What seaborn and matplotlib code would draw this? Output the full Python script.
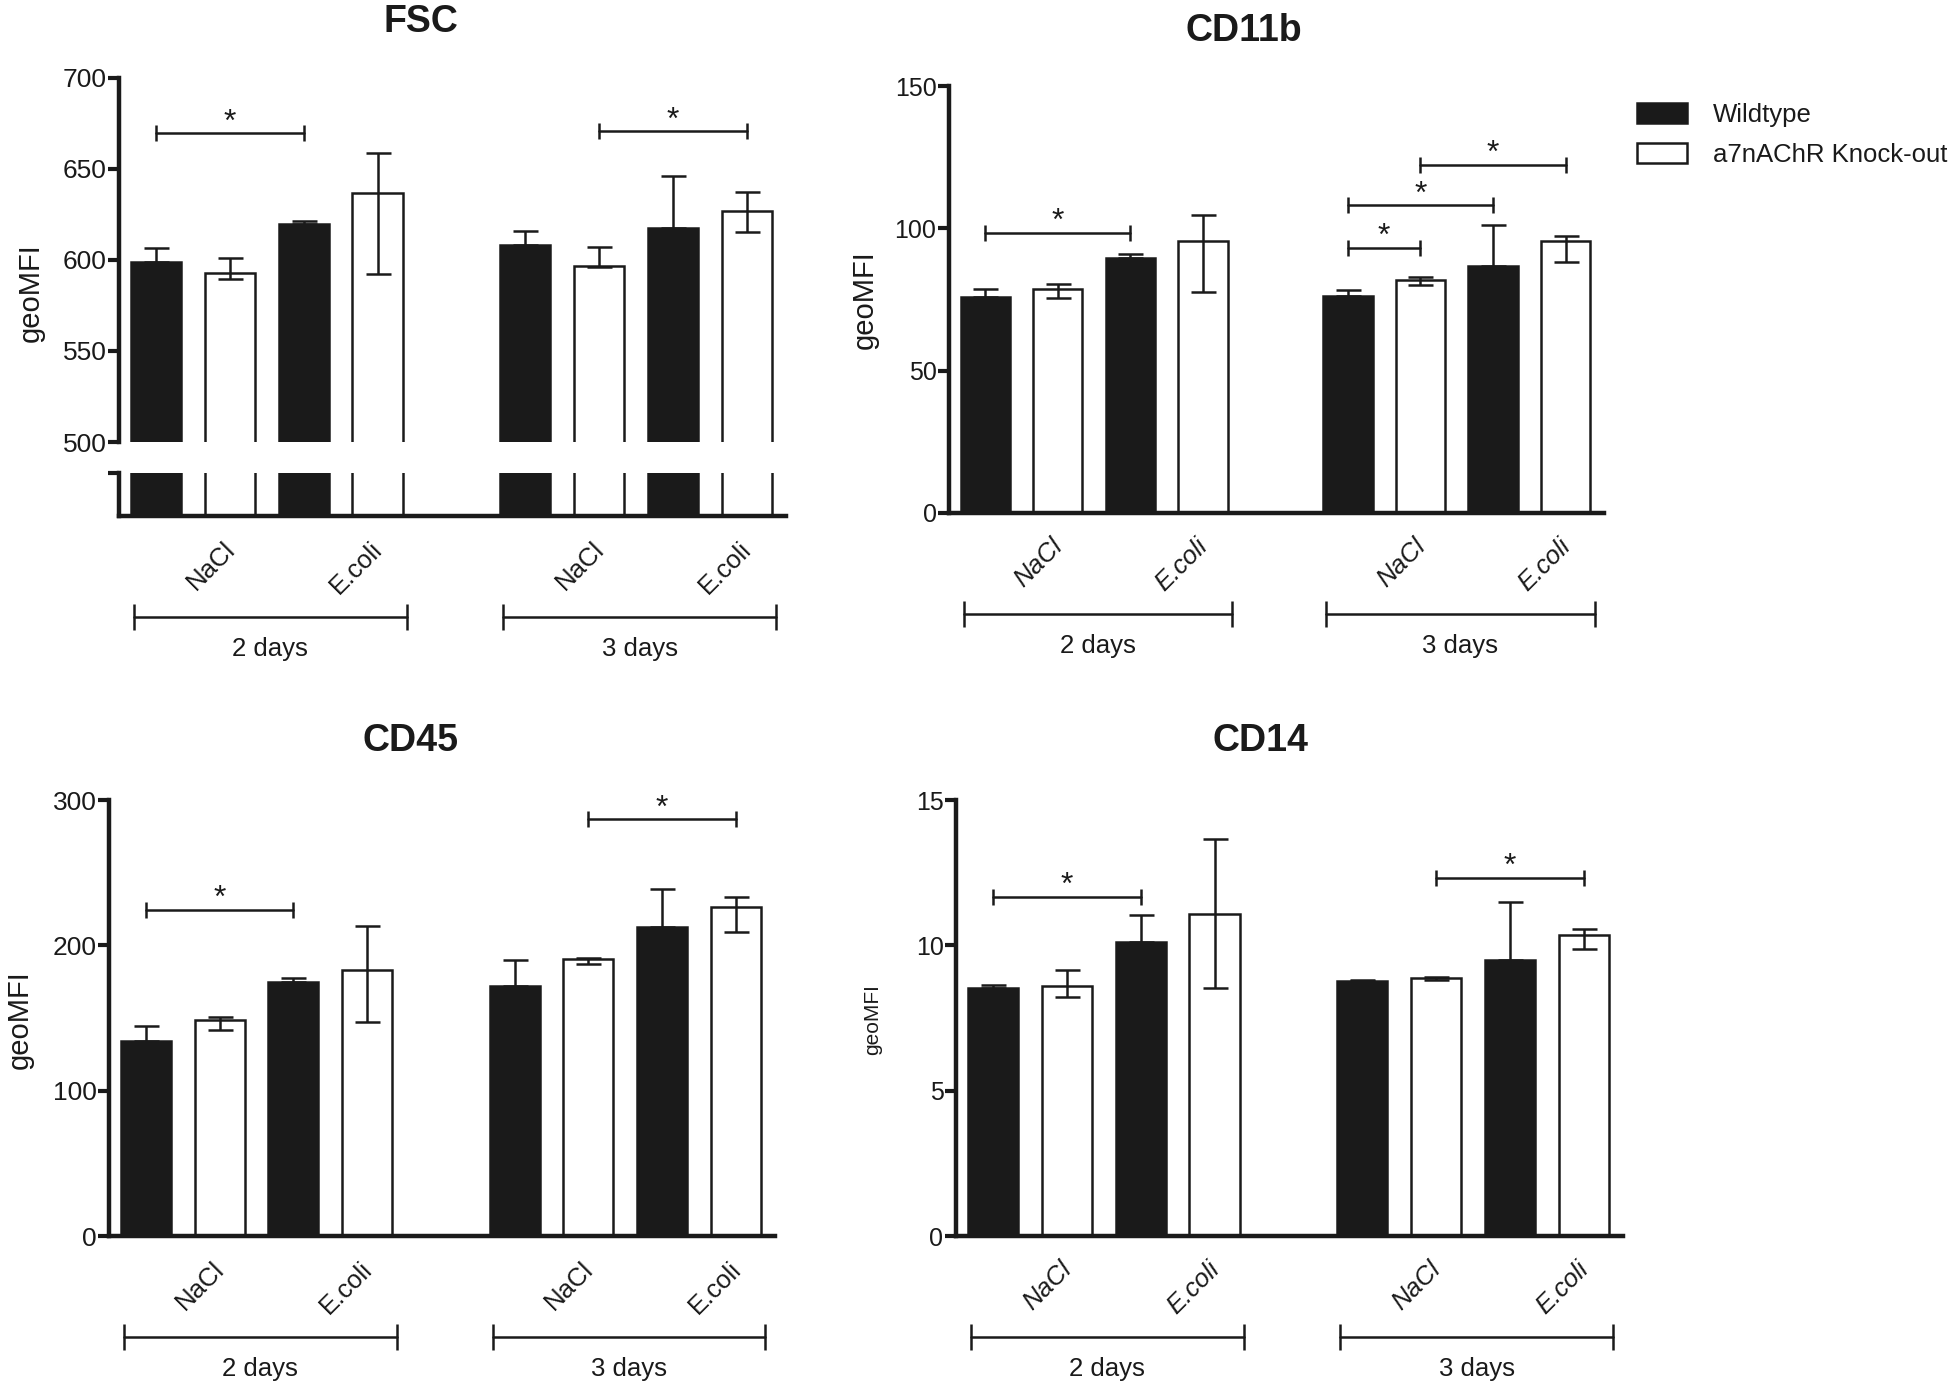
import matplotlib
matplotlib.use("Agg")
import numpy as np
import pandas as pd
import matplotlib.pyplot as plt
import matplotlib.transforms as mtrans
import seaborn as sns

W, H = 1959, 1386
INK = "#1a1a1a"

GENOTYPES = ["Wildtype", "a7nAChR Knock-out"]
TREATMENTS = ["NaCl", "E.coli"]
DAYS = ["2 days", "3 days"]

# every series: 2 days NaCl, 2 days E.coli, 3 days NaCl, 3 days E.coli
# *_top / *_low are the ends of the error bars
fsc_wt = [598.7, 619.8, 607.9, 617.4]
fsc_wt_top = [606.6, 621.3, 615.6, 646.2]
fsc_ko = [593.0, 636.7, 596.7, 627.0]
fsc_ko_low = [589.4, 592.1, 595.8, 615.4]
fsc_ko_top = [600.9, 658.5, 607.2, 637.1]

cd11b_wt = [75.8, 89.6, 76.3, 86.7]
cd11b_wt_top = [78.6, 90.9, 78.5, 101.0]
cd11b_ko = [78.8, 95.5, 81.9, 95.5]
cd11b_ko_low = [75.6, 77.8, 80.2, 88.2]
cd11b_ko_top = [80.5, 104.6, 83.0, 97.2]

cd45_wt = [133.9, 174.8, 172.0, 212.6]
cd45_wt_top = [144.5, 177.3, 189.7, 238.8]
cd45_ko = [148.6, 183.0, 190.4, 226.1]
cd45_ko_low = [142.0, 147.0, 187.4, 209.4]
cd45_ko_top = [150.5, 213.5, 191.5, 233.3]

cd14_wt = [8.52, 10.11, 8.77, 9.50]
cd14_wt_top = [8.62, 11.03, 8.81, 11.50]
cd14_ko = [8.60, 11.09, 8.89, 10.36]
cd14_ko_low = [8.22, 8.54, 8.80, 9.86]
cd14_ko_top = [9.16, 13.66, 8.92, 10.55]

# significance brackets: (bar a, bar b, height); bars numbered 0-7 in plot order
fsc_sig = [(0, 2, 669.4), (5, 7, 670.5)]
cd11b_sig = [(0, 2, 98.3), (4, 5, 93.1), (4, 6, 108.1), (5, 7, 122.2)]
cd45_sig = [(0, 2, 224.3), (5, 7, 286.7)]
cd14_sig = [(0, 2, 11.66), (5, 7, 12.33)]

PALETTE = {GENOTYPES[0]: INK, GENOTYPES[1]: "white"}

sns.set_style("white")
plt.rcParams["font.family"] = ["Liberation Sans", "DejaVu Sans"]
plt.rcParams["text.color"] = INK

fig = plt.figure(figsize=(W / 100, H / 100), dpi=100)


def add_ax(left, top, right, bottom):
    return fig.add_axes([left / W, 1 - bottom / H, (right - left) / W, (bottom - top) / H])


def slot(day, treat, geno):
    # one empty slot between the two time points
    return day * 5 + treat * 2 + geno


def bar_slot(i):
    return i + i // 4


def bar_table(wt, ko):
    rows = []
    for k in range(4):
        d, t = divmod(k, 2)
        rows.append((slot(d, t, 0), GENOTYPES[0], wt[k]))
        rows.append((slot(d, t, 1), GENOTYPES[1], ko[k]))
    return pd.DataFrame(rows, columns=["slot", "genotype", "geoMFI"])


def bars(ax, wt, ko, legend=False):
    sns.barplot(data=bar_table(wt, ko), x="slot", y="geoMFI", hue="genotype",
                hue_order=GENOTYPES, palette=PALETTE, native_scale=True, dodge=False,
                width=0.68, errorbar=None, edgecolor=INK, linewidth=1.8,
                legend=legend, ax=ax)
    ax.set(xlabel="", ylabel="")
    ax.set_xlim(-0.5, 8.53)


def style_axis(ax, ticks, tick_size, bottom=True):
    sns.despine(ax=ax, top=True, right=True, bottom=not bottom)
    for side in ["left", "bottom"]:
        ax.spines[side].set_linewidth(3.2)
        ax.spines[side].set_color(INK)
    ax.set_yticks(ticks)
    ax.tick_params(axis="y", direction="out", length=8, width=3, pad=1,
                   labelsize=tick_size, colors=INK, left=True)


def errors(ax, wt, wt_top, ko, ko_low, ko_top):
    wt_x = [slot(d, t, 0) for d in range(2) for t in range(2)]
    ko_x = [slot(d, t, 1) for d in range(2) for t in range(2)]
    wt = np.array(wt)
    ko = np.array(ko)
    kw = dict(fmt="none", ecolor=INK, elinewidth=1.8, capsize=9, capthick=1.8, zorder=3)
    ax.errorbar(wt_x, wt, yerr=[np.zeros(4), np.array(wt_top) - wt], **kw)
    ax.errorbar(ko_x, ko, yerr=[ko - np.array(ko_low), np.array(ko_top) - ko], **kw)


def significance(ax, sig):
    for a, b, y in sig:
        xa, xb = bar_slot(a), bar_slot(b)
        ax.plot([xa, xb], [y, y], color=INK, lw=1.8, marker="|", markersize=12,
                markeredgewidth=1.8, zorder=4)
        ax.annotate("*", xy=((xa + xb) / 2, y), xytext=(0, -3), textcoords="offset points",
                    ha="center", va="bottom", fontsize=23, color=INK)


def categories(ax, italic):
    pos = [slot(d, t, 0) + 0.5 + 0.63 for d in range(2) for t in range(2)]
    ax.set_xticks(pos)
    ax.set_xticklabels(TREATMENTS * 2, rotation=45, ha="right",
                       fontstyle="italic" if italic else "normal")
    ax.tick_params(axis="x", length=0, pad=15, labelsize=18.5, colors=INK)
    base = mtrans.blended_transform_factory(ax.transData, ax.transAxes)
    line_tr = mtrans.offset_copy(base, fig=fig, y=-101, units="dots")
    text_tr = mtrans.offset_copy(base, fig=fig, y=-133, units="dots")
    for d, day in enumerate(DAYS):
        x0, x1 = d * 5 - 0.3, d * 5 + 3.4
        ax.plot([x0, x1], [0, 0], transform=line_tr, clip_on=False, color=INK, lw=1.8,
                marker="|", markersize=19, markeredgewidth=1.8)
        ax.text((x0 + x1) / 2, 0, day, transform=text_tr, ha="center", va="center",
                fontsize=18.5, color=INK)


# ---------- FSC (broken y axis) ----------
ax_top = add_ax(119, 77.5, 786, 442)
ax_low = add_ax(119, 473, 786, 516)
bars(ax_top, fsc_wt, fsc_ko)
bars(ax_low, fsc_wt, fsc_ko)
ax_top.set_ylim(500, 700)
ax_low.set_ylim(0, 100)
style_axis(ax_top, [500, 550, 600, 650, 700], 19)
ax_top.spines["bottom"].set_visible(False)
ax_top.set_xticks([])
errors(ax_top, fsc_wt, fsc_wt_top, fsc_ko, fsc_ko_low, fsc_ko_top)
significance(ax_top, fsc_sig)
style_axis(ax_low, [100], 19)
ax_low.set_yticklabels([])
categories(ax_low, italic=False)
fig.text(31 / W, 1 - 293 / H, "geoMFI", rotation=90, ha="center", va="center", fontsize=21)
fig.text(421 / W, 1 - 22 / H, "FSC", ha="center", va="center", fontsize=27, fontweight="bold")

# ---------- CD11b ----------
ax = add_ax(949, 86, 1604, 513)
bars(ax, cd11b_wt, cd11b_ko, legend=True)
ax.set_ylim(0, 150)
style_axis(ax, [0, 50, 100, 150], 18)
errors(ax, cd11b_wt, cd11b_wt_top, cd11b_ko, cd11b_ko_low, cd11b_ko_top)
significance(ax, cd11b_sig)
categories(ax, italic=True)
fig.text(865 / W, 1 - 300 / H, "geoMFI", rotation=90, ha="center", va="center", fontsize=21)
fig.text(1244 / W, 1 - 31 / H, "CD11b", ha="center", va="center", fontsize=27, fontweight="bold")

handles, labels = ax.get_legend_handles_labels()
ax.get_legend().remove()
fig.legend(handles, labels, loc="upper left", bbox_to_anchor=(1637 / W, 1 - 103 / H),
           frameon=False, fontsize=18.5, handlelength=1.96, handleheight=0.8,
           handletextpad=1.0, labelspacing=0.62, borderpad=0, borderaxespad=0)

# ---------- CD45 ----------
ax = add_ax(109, 800, 775, 1236)
bars(ax, cd45_wt, cd45_ko)
ax.set_ylim(0, 300)
style_axis(ax, [0, 100, 200, 300], 19)
errors(ax, cd45_wt, cd45_wt_top, cd45_ko, cd45_ko_low, cd45_ko_top)
significance(ax, cd45_sig)
categories(ax, italic=False)
fig.text(20 / W, 1 - 1020 / H, "geoMFI", rotation=90, ha="center", va="center", fontsize=21)
fig.text(410 / W, 1 - 741 / H, "CD45", ha="center", va="center", fontsize=27, fontweight="bold")

# ---------- CD14 ----------
ax = add_ax(956, 800, 1623, 1236)
bars(ax, cd14_wt, cd14_ko)
ax.set_ylim(0, 15)
style_axis(ax, [0, 5, 10, 15], 18)
errors(ax, cd14_wt, cd14_wt_top, cd14_ko, cd14_ko_low, cd14_ko_top)
significance(ax, cd14_sig)
categories(ax, italic=True)
fig.text(873 / W, 1 - 1020 / H, "geoMFI", rotation=90, ha="center", va="center", fontsize=15)
fig.text(1260 / W, 1 - 741 / H, "CD14", ha="center", va="center", fontsize=27, fontweight="bold")

fig.savefig("out.png", dpi=100, facecolor="white")
